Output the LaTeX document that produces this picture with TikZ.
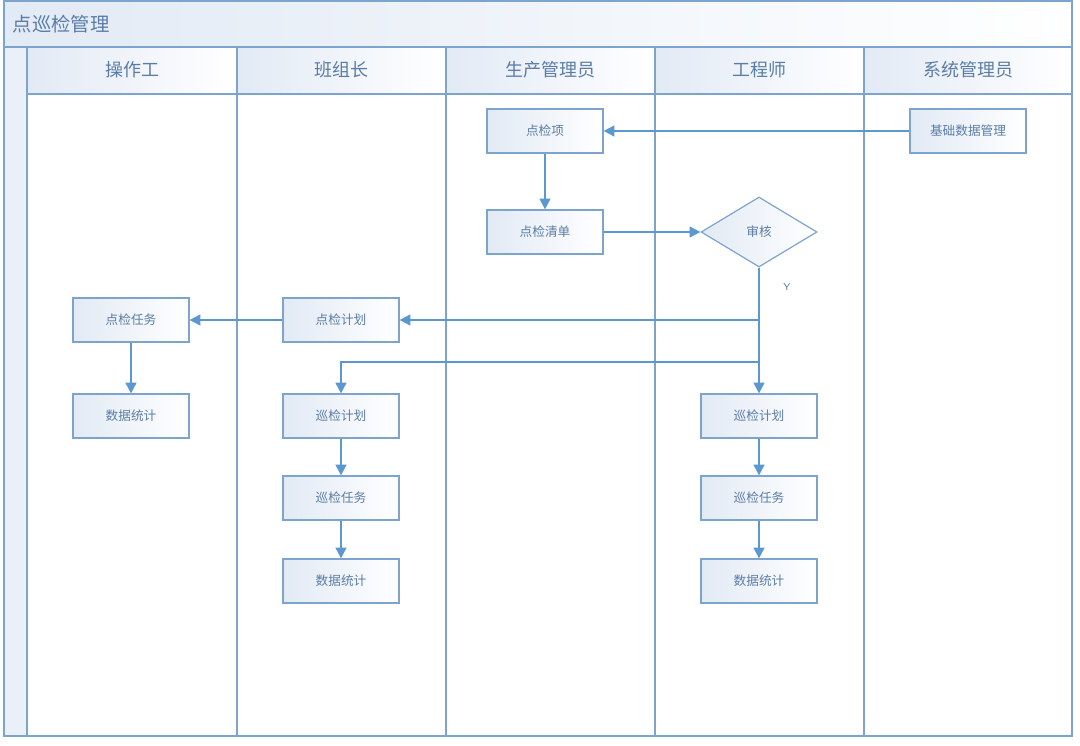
\documentclass[tikz,border=0pt]{standalone}
\usepackage{fontspec}
\newfontfamily\cjk{Noto Sans CJK SC}
\usetikzlibrary{arrows.meta,shapes.geometric}
\definecolor{frame}{HTML}{7DA4CC}
\definecolor{conn}{HTML}{5B97D0}
\definecolor{txt}{HTML}{5A7DA6}
\definecolor{fillA}{HTML}{E2EAF5}
\definecolor{fillB}{HTML}{EBF0F8}
\begin{document}
\begin{tikzpicture}[x=0.75pt,y=-0.75pt,font=\cjk,
  lane/.style={draw=frame,line width=1.1pt},
  hdr/.style={draw=frame,line width=1.1pt,left color=fillA,right color=white},
  hdrtext/.style={text=txt,font=\cjk\fontsize{13.5}{15}\selectfont},
  procbox/.style={draw=frame,line width=0.9pt,left color=fillA,right color=white,
    minimum width=87pt,minimum height=33pt,inner sep=0pt,text=txt,
    font=\cjk\fontsize{9.5}{11}\selectfont},
  decbox/.style={diamond,draw=frame,line width=0.9pt,left color=fillA,right color=white,
    minimum width=87pt,minimum height=52.5pt,inner sep=0pt,text=txt,
    font=\cjk\fontsize{9.5}{11}\selectfont},
  arr/.style={draw=conn,line width=1.4pt,-{Triangle[length=8pt,width=8pt]}}]
\fill[white] (0,0) rectangle (1080,745);
\useasboundingbox (0,0) rectangle (1080,745);
% title band
\draw[hdr] (4,1) rectangle (1072,47);
\node[anchor=west,text=txt,font=\cjk\fontsize{14.5}{17}\selectfont] (title) at (8,24) {点巡检管理};
% left strip
\draw[lane,fill=fillB] (4,47) rectangle (27,736);
% lanes
\foreach \xa/\xb/\name in {27/237/操作工,237/446/班组长,446/655/生产管理员,655/864/工程师,864/1072/系统管理员}{
  \draw[hdr] (\xa,47) rectangle (\xb,94);
  \draw[lane,fill=white] (\xa,94) rectangle (\xb,736);
  \node[hdrtext] at ({(\xa+\xb)/2},70) {\name};
}
% nodes
\node[procbox] (item) at (545,131) {点检项};
\node[procbox] (list) at (545,232) {点检清单};
\node[decbox] (audit) at (759,232) {审核};
\node[procbox] (base) at (968,131) {基础数据管理};
\node[procbox] (task1) at (131,320) {点检任务};
\node[procbox] (stat1) at (131,416) {数据统计};
\node[procbox] (plan) at (341,320) {点检计划};
\node[procbox] (xp2) at (341,416) {巡检计划};
\node[procbox] (xt2) at (341,498) {巡检任务};
\node[procbox] (st2) at (341,581) {数据统计};
\node[procbox] (xp4) at (759,416) {巡检计划};
\node[procbox] (xt4) at (759,498) {巡检任务};
\node[procbox] (st4) at (759,581) {数据统计};
\node[text=txt,font=\sffamily\fontsize{7.5}{8}\selectfont] (ylab) at (787,287) {Y};
% connectors
\draw[arr] (base.west) -- (item.east);
\draw[arr] (item) -- (list);
\draw[arr] (list) -- (audit);
\draw[arr] (audit.south) |- (plan.east);
\draw[arr] (audit.south) -- (xp4.north);
\coordinate (br) at (759,362);
\draw[arr] (br) -| (xp2.north);
\draw[arr] (plan) -- (task1);
\draw[arr] (task1) -- (stat1);
\draw[arr] (xp2) -- (xt2);
\draw[arr] (xt2) -- (st2);
\draw[arr] (xp4) -- (xt4);
\draw[arr] (xt4) -- (st4);
\end{tikzpicture}
\end{document}
